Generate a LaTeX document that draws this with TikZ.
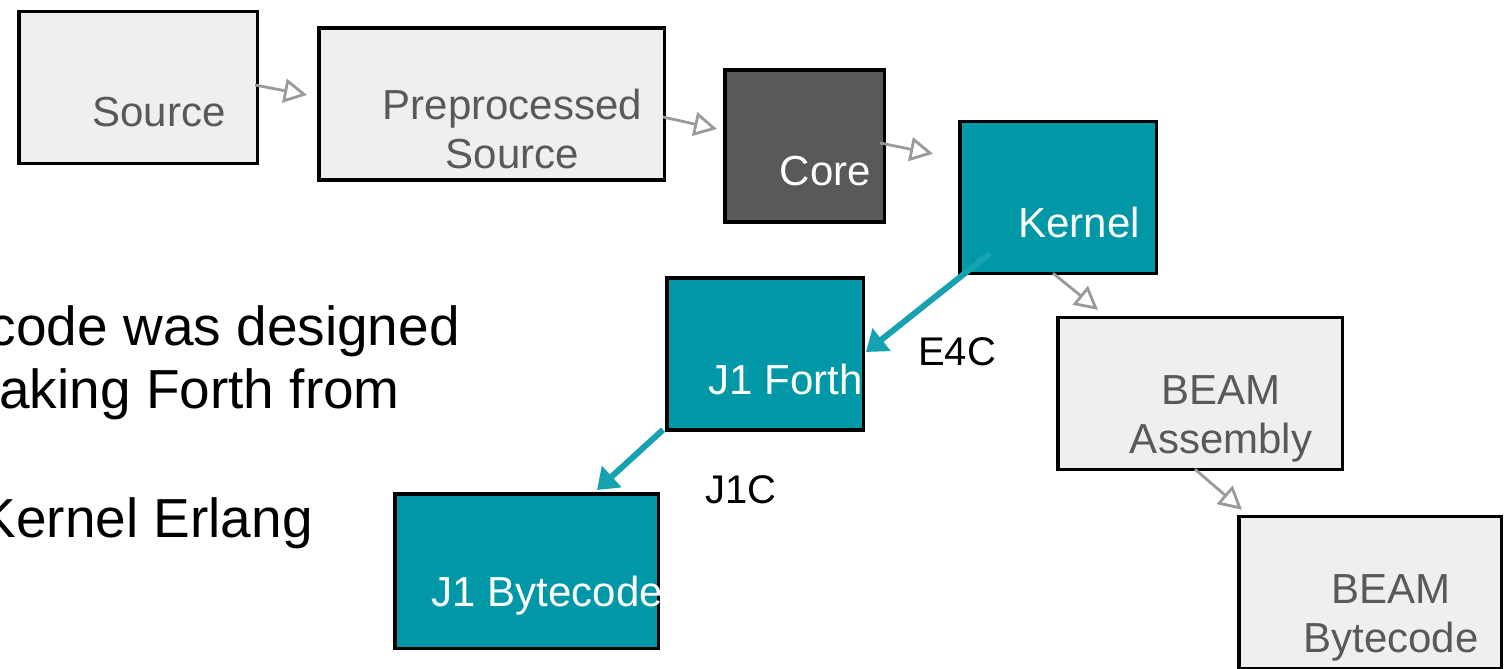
\documentclass[tikz,border=0pt]{standalone}
\usepackage{fontspec}
\setmainfont{Liberation Sans}
\usetikzlibrary{arrows.meta}
\definecolor{boxgray}{HTML}{EFEFEF}
\definecolor{coregray}{HTML}{595959}
\definecolor{kteal}{HTML}{0097A7}
\definecolor{arrowteal}{HTML}{17A2B1}
\definecolor{arrowgray}{HTML}{9A9A9A}
\definecolor{labelgray}{HTML}{595959}
\begin{document}
\begin{tikzpicture}[x=1pt,y=-1pt,
  box/.style={draw=black, line width=3.5pt, inner sep=0pt, minimum height=152pt},
  light/.style={box, fill=boxgray},
  dark/.style={box, fill=coregray},
  tealbox/.style={box, fill=kteal},
  boxtext/.style={xshift=21pt, yshift=-25pt, inner sep=0pt,
    font=\fontsize{42}{49}\selectfont, align=center},
  graytext/.style={boxtext, text=labelgray},
  whitetext/.style={boxtext, text=white},
  garrow/.style={draw=arrowgray, line width=2.8pt,
    -{Triangle[open, length=23pt, width=24pt]}},
  tarrow/.style={draw=arrowteal, line width=6pt,
    -{Triangle[length=20pt, width=28pt]}},
  edgelabel/.style={font=\fontsize{40}{46}\selectfont, inner sep=0pt},
  bodytext/.style={font=\fontsize{55}{64}\selectfont, inner sep=0pt, anchor=base east},
]
\useasboundingbox (0,0) rectangle (1510,669);
\clip (0,0) rectangle (1510,669);
\fill[white] (0,0) rectangle (1510,669);

% slide text behind the diagram
\node[bodytext] (t1) at (460,345) {code was designed};
\node[bodytext] (t2) at (400,408) {aking Forth from};
\node[bodytext] (t3) at (313,537) {Kernel Erlang};

% compilation stages
\node[light, minimum width=238.5pt, label={[graytext]center:Source}] (src) at (138,87.5) {};
\node[light, minimum width=345.5pt, label={[graytext]center:Preprocessed\\Source}] (pre) at (491.5,104) {};
\node[dark, minimum width=159.5pt, label={[whitetext]center:Core}] (core) at (804.5,146) {};
\node[tealbox, minimum width=196.5pt, label={[whitetext]center:Kernel}] (kernel) at (1058,197.5) {};
\node[tealbox, minimum width=196.5pt, label={[whitetext]center:J1 Forth}] (j1f) at (765,354) {};
\node[light, minimum width=284.5pt, label={[graytext]center:BEAM\\Assembly}] (beamasm) at (1200,393.5) {};
\node[tealbox, minimum width=263.5pt, minimum height=154.5pt, label={[whitetext]center:J1 Bytecode}] (j1bc) at (526.5,571) {};
\node[light, minimum width=262.5pt, label={[graytext]center:BEAM\\Bytecode}] (beambc) at (1370,592.5) {};

% main pipeline
\draw[garrow] ([shift={(-4,-2.5)}]src.east) -- ([shift={(-10,-9)}]pre.west);
\draw[garrow] ([shift={(-3,13)}]pre.east) -- ([shift={(-6,-17)}]core.west);
\draw[garrow] ([shift={(-6,-3)}]core.east) -- ([shift={(-25,34)}]kernel.north west);
\draw[garrow] ([shift={(-5,-2)}]kernel.south) -- ([shift={(42,-6)}]beamasm.north west);
\draw[garrow] ([shift={(-5,-2)}]beamasm.south) -- ([shift={(5,-5)}]beambc.north west);

% J1 branch
\draw[tarrow] ([shift={(32,-22)}]kernel.south west) -- ([shift={(1,-2)}]j1f.east);
\draw[tarrow] ([shift={(-2,-2)}]j1f.south west) -- ([shift={(70.5,-2)}]j1bc.north);

\node[edgelabel] (e4c) at (957,352) {E4C};
\node[edgelabel] (j1c) at (741,490) {J1C};
\end{tikzpicture}
\end{document}
